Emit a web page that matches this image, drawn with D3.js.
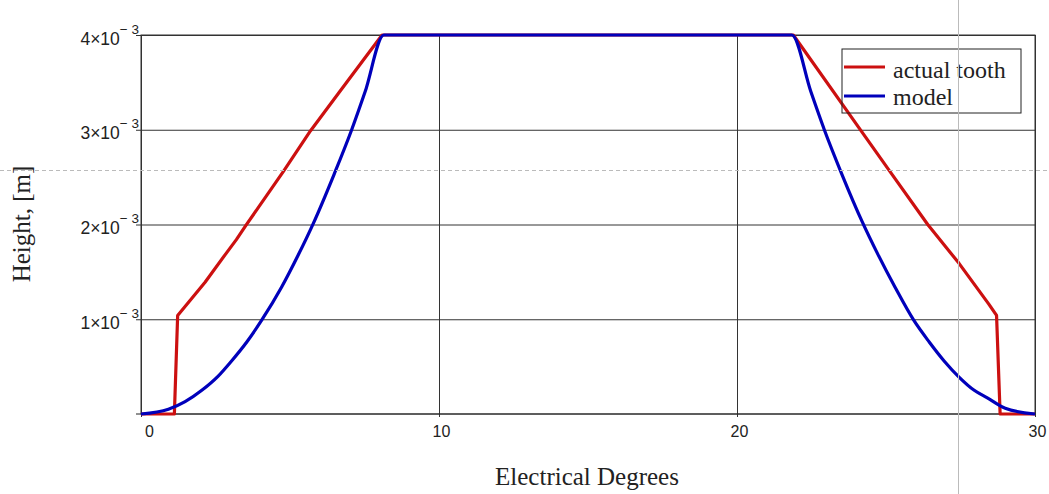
<!DOCTYPE html>
<html>
<head>
<meta charset="utf-8">
<script src="https://cdn.jsdelivr.net/npm/d3@7"></script>
<style>
  body { margin: 0; background: #fff; }
  .tick text { font-family: "Liberation Sans", Arial, sans-serif; fill: #222; }
  .title { font-family: "Liberation Serif", "Times New Roman", serif; fill: #222; }
</style>
</head>
<body>
<div id="chart"></div>
<script>
var w = 1049;
var h = 494;
var margin = {top: 35, right: 14, bottom: 80, left: 141};

// actual tooth profile (degrees, metres)
var toothDeg = [0, 1.12, 1.23, 2.15, 2.82, 3.2, 3.52, 4.78, 5.69, 6.64, 8.09,
                21.89, 24.16, 25.13, 26.4, 27.45, 28.45, 28.71, 28.83, 30];
var toothH = [0, 0, 0.00104, 0.00139, 0.00168, 0.00184, 0.00199, 0.00256, 0.00299, 0.00339, 0.004,
              0.004, 0.00299, 0.00256, 0.002, 0.00159, 0.00116, 0.00104, 0, 0];

// model profile
var modelDeg = [0, 0.92, 1.48, 2.04, 2.59, 3.04, 3.55, 4.05, 4.72, 5.28, 5.78, 6.48, 7.07, 7.52, 8.15,
                21.84, 22.48, 22.93, 23.52, 24.2, 24.72, 25.3, 25.93, 26.45, 26.95, 27.45, 27.96, 28.4, 29.0, 30];
var modelH = [0, 0.00005, 0.00013, 0.00025, 0.0004, 0.00056, 0.00076, 0.00099, 0.00134, 0.00168, 0.00201, 0.00253, 0.003, 0.0034, 0.004,
              0.004, 0.0034, 0.003, 0.00253, 0.00203, 0.00169, 0.00134, 0.00099, 0.00076, 0.00056, 0.00039, 0.00025, 0.00017, 0.00006, 0];

var xTicks = [0, 10, 20, 30];
var yTicks = [0.001, 0.002, 0.003, 0.004];
var yTickLabels = ["1\u00d710", "2\u00d710", "3\u00d710", "4\u00d710"];
var seriesNames = ["actual tooth", "model"];
var seriesColors = ["#cc1010", "#0000bb"];

var iw = w - margin.left - margin.right;
var ih = h - margin.top - margin.bottom;

var xScale = d3.scaleLinear().domain([0, 30]).range([0, iw]);
var yScale = d3.scaleLinear().domain([0, 0.004]).range([ih, 0]);

var svg = d3.select("#chart").append("svg")
  .attr("width", w)
  .attr("height", h);

svg.append("rect").attr("width", w).attr("height", h).attr("fill", "#fff");

var g = svg.append("g")
  .attr("transform", "translate(" + margin.left + "," + margin.top + ")");

// y axis with grid
var yAxis = g.append("g")
  .call(d3.axisLeft(yScale).tickValues(yTicks).tickSizeInner(-iw).tickSizeOuter(0).tickFormat(""));
yAxis.select(".domain").remove();
yAxis.selectAll("line").attr("x1", -5).attr("stroke", "#333");
yAxis.selectAll(".tick").each(function(d, i) {
  var t = d3.select(this).append("text")
    .attr("x", -2)
    .attr("y", 0)
    .attr("fill", "#222")
    .style("text-anchor", "end");
  t.append("tspan").attr("dy", 9).style("font-size", "17.5px").text(yTickLabels[i]);
  t.append("tspan").attr("dy", -11).style("font-size", "13.5px").text("\u2212 3");
});

// x axis with grid
var xAxis = g.append("g")
  .attr("transform", "translate(0," + ih + ")")
  .call(d3.axisBottom(xScale).tickValues(xTicks).tickSizeInner(-ih).tickSizeOuter(0).tickPadding(12));
xAxis.select(".domain").remove();
xAxis.selectAll("line").attr("y1", 3).attr("stroke", "#333");
xAxis.selectAll("text").style("font-size", "16px")
  .attr("dx", function(d) { return d === 0 ? 8 : 2; });

// frame
g.append("rect")
  .attr("width", iw).attr("height", ih)
  .attr("fill", "none").attr("stroke", "#333").attr("stroke-width", 1);
g.append("line").attr("x1", -5).attr("x2", iw).attr("y1", ih).attr("y2", ih)
  .attr("stroke", "#222");

// curves
var tooth = toothDeg.map(function(d, i) { return [d, toothH[i]]; });
var model = modelDeg.map(function(d, i) { return [d, modelH[i]]; });

var lineLinear = d3.line()
  .x(function(d) { return xScale(d[0]); })
  .y(function(d) { return yScale(d[1]); });
var lineSmooth = d3.line()
  .curve(d3.curveMonotoneX)
  .x(function(d) { return xScale(d[0]); })
  .y(function(d) { return yScale(d[1]); });

g.append("path").datum(tooth)
  .attr("d", lineLinear)
  .attr("fill", "none").attr("stroke", seriesColors[0]).attr("stroke-width", 3.2)
  .attr("stroke-linejoin", "round");
g.append("path").datum(model)
  .attr("d", lineSmooth)
  .attr("fill", "none").attr("stroke", seriesColors[1]).attr("stroke-width", 3.2)
  .attr("stroke-linejoin", "round");

// legend
var lg = svg.append("g").attr("transform", "translate(842,49)");
lg.append("rect").attr("width", 179).attr("height", 64)
  .attr("fill", "none").attr("stroke", "#222");
seriesNames.forEach(function(name, i) {
  lg.append("line")
    .attr("x1", 2).attr("x2", 43)
    .attr("y1", 18 + i * 29).attr("y2", 18 + i * 29)
    .attr("stroke", seriesColors[i]).attr("stroke-width", 3.2);
  lg.append("text").attr("class", "title")
    .attr("x", 51).attr("y", 29 + i * 27)
    .style("font-size", "24px")
    .text(name);
});

// axis titles
svg.append("text").attr("class", "title")
  .attr("x", 587).attr("y", 485)
  .style("text-anchor", "middle").style("font-size", "25px")
  .text("Electrical Degrees");
svg.append("text").attr("class", "title")
  .attr("transform", "translate(30,224) rotate(-90)")
  .style("text-anchor", "middle").style("font-size", "25px")
  .text("Height, [m]");

// cursor lines
svg.append("line").attr("x1", 0).attr("x2", w).attr("y1", 170.5).attr("y2", 170.5)
  .attr("stroke", "#bbb").attr("stroke-dasharray", "4,3");
svg.append("line").attr("x1", 958.5).attr("x2", 958.5).attr("y1", 0).attr("y2", h)
  .attr("stroke", "#bbb");
</script>
</body>
</html>
